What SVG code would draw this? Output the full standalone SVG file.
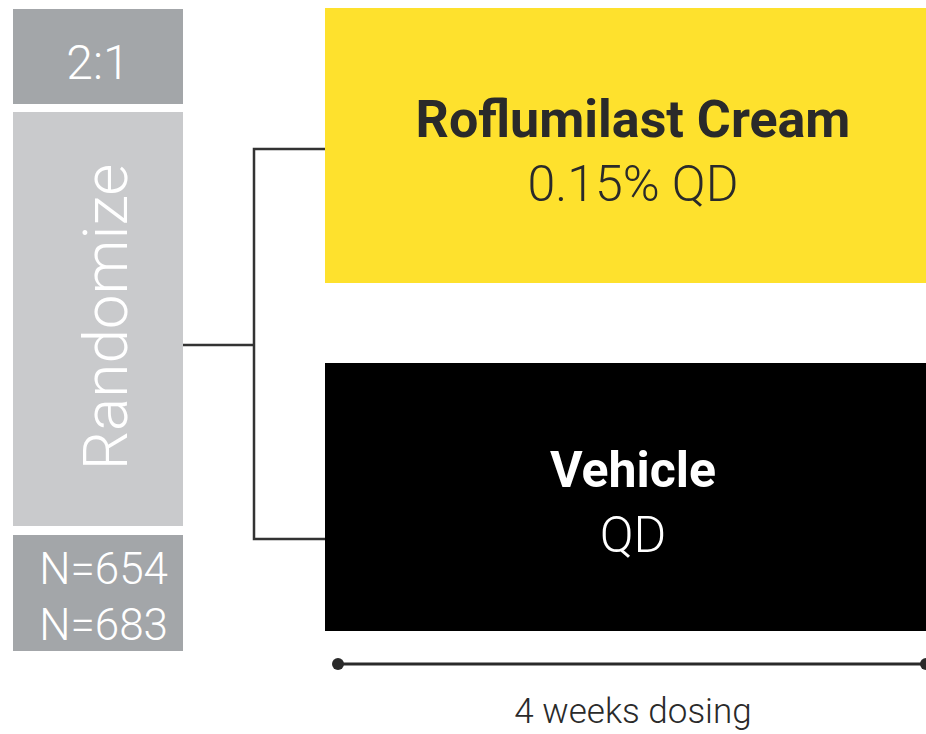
<svg xmlns="http://www.w3.org/2000/svg" width="926" height="734" viewBox="0 0 926 734">
<style>
.lt{font-family:Roboto,"Liberation Sans",sans-serif;font-weight:300}
.bd{font-family:Roboto,"Liberation Sans",sans-serif;font-weight:700}
.w{fill:#ffffff}
.k{fill:#2a2a2a}
.conn{fill:none;stroke:#333333;stroke-width:2.5}
</style>
<rect width="926" height="734" fill="#ffffff"/>
<g id="ratio">
<rect x="13" y="9" width="170" height="95" fill="#a3a6a9"/>
<text class="lt w" x="98" y="79" font-size="48" text-anchor="middle">2:1</text>
</g>
<g id="randomize">
<rect x="13" y="112" width="170" height="414" fill="#c9cacc"/>
<text class="lt w" transform="translate(127,317) rotate(-90)" font-size="62" text-anchor="middle">Randomize</text>
</g>
<g id="counts">
<rect x="13" y="535" width="170" height="116" fill="#a3a6a9"/>
<text class="lt w" x="168" y="584" font-size="44" text-anchor="end">N=654</text>
<text class="lt w" x="168" y="640" font-size="44" text-anchor="end">N=683</text>
</g>
<g id="roflumilast">
<rect x="325" y="8" width="601" height="275" fill="#fee12d"/>
<text class="bd k" x="633" y="137" font-size="52" text-anchor="middle">Roflumilast Cream</text>
<text class="lt k" x="633" y="201" font-size="50" text-anchor="middle">0.15% QD</text>
</g>
<g id="vehicle">
<rect x="325" y="363" width="601" height="268" fill="#000000"/>
<text class="bd w" x="633" y="487" font-size="50" text-anchor="middle">Vehicle</text>
<text class="lt w" x="633" y="552" font-size="50" text-anchor="middle">QD</text>
</g>
<g id="connectors">
<polyline class="conn" points="183,345 254,345"/>
<polyline class="conn" points="325,149 254,149 254,539 325,539"/>
</g>
<g id="timeline">
<line x1="338" y1="664" x2="922" y2="664" stroke="#2a2a2a" stroke-width="3"/>
<circle cx="338" cy="664" r="6" fill="#2a2a2a"/>
<circle cx="926" cy="664" r="6" fill="#2a2a2a"/>
<text class="lt k" x="633" y="723" font-size="35" text-anchor="middle">4 weeks dosing</text>
</g>
</svg>
